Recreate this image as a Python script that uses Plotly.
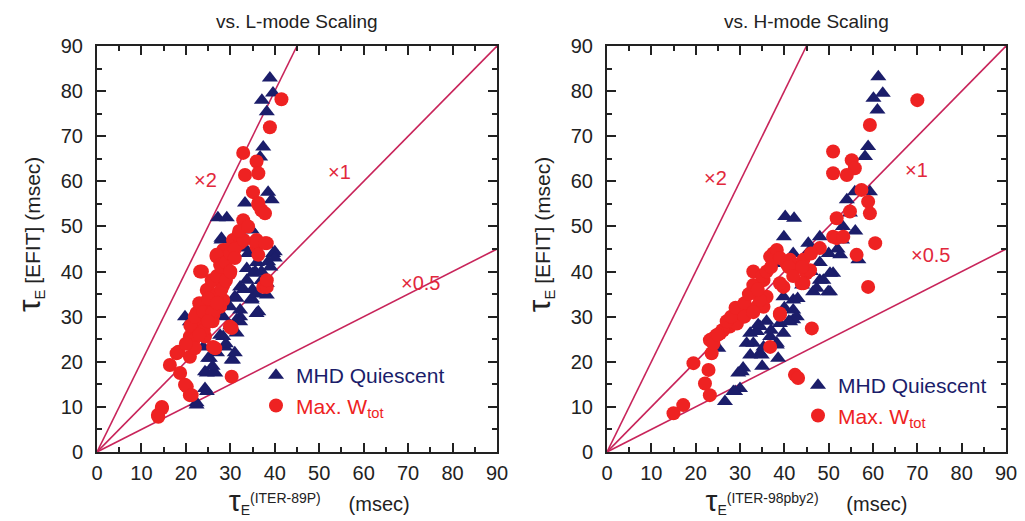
import plotly.graph_objects as go

# ---------------- data ----------------
panel_titles = ["vs. L-mode Scaling", "vs. H-mode Scaling"]
x_scalings = ["ITER-89P", "ITER-98pby2"]
ratio_values = [2, 1, 0.5]
ratio_labels = ["×2", "×1", "×0.5"]
series_names = ["MHD Quiescent", "Max. W<sub>tot</sub>"]
tick_vals = [0, 10, 20, 30, 40, 50, 60, 70, 80, 90]

# Left panel (L-mode scaling): MHD quiescent (triangles)
L_tri_x = [38.9, 37.1, 39.6, 38.2, 37.4, 36.7, 38.5, 39.3, 33.3, 27.2, 29.2, 34.8, 28.0,
           39.6, 35.1, 38.2, 36.3, 34.8, 32.2, 31.4, 28.4, 30.6, 25.4, 24.7, 26.6, 24.7,
           22.4, 20.9, 23.9, 27.7, 31.4, 34.4, 28.0, 33.3, 40.0, 38.5, 33.7, 35.6, 37.0,
           33.7, 38.2, 32.2, 31.0, 34.8, 29.9, 32.2, 35.9, 28.4, 19.8, 31.4, 32.2, 27.7,
           28.8, 25.0, 30.3, 24.3, 26.2, 24.3, 22.4,
           34.0, 36.0, 37.0, 33.0, 35.0, 30.0, 29.0, 27.0, 26.0, 31.0, 36.0, 39.0, 38.0, 40.0]
L_tri_y = [82.9, 78.0, 79.6, 75.4, 67.6, 65.4, 57.6, 55.9, 55.2, 51.9, 51.9, 49.2, 47.4,
           44.0, 39.6, 34.8, 31.1, 33.7, 30.0, 26.4, 25.6, 20.4, 20.8, 17.5, 17.5, 13.4,
           10.9, 28.9, 23.3, 33.0, 34.1, 49.6, 47.0, 45.2, 44.4, 42.2, 40.7, 40.0, 40.0,
           38.1, 37.4, 36.6, 34.4, 34.0, 32.2, 31.5, 30.7, 30.0, 30.0, 29.3, 28.9, 25.9,
           23.3, 20.8, 20.4, 17.8, 17.8, 14.1, 10.4,
           44.0, 42.0, 38.0, 36.0, 36.0, 28.0, 24.0, 22.0, 19.0, 22.0, 35.0, 41.0, 46.0, 43.0]

# Left panel: Max. W_tot (circles)
L_cir_x = [41.5, 38.9, 32.9, 35.9, 36.3, 33.3, 35.1, 36.3, 37.0, 32.9, 35.9, 38.2, 30.6,
           23.2, 26.9, 28.4, 32.2, 35.9, 37.4, 22.4, 21.6, 20.9, 17.9, 16.4, 18.7, 20.2,
           20.9, 14.6, 13.7, 30.3, 26.1, 30.3, 25.4, 28.4,
           36.3, 37.8, 31.8, 35.6, 37.8, 29.2, 26.9, 36.3, 27.7, 23.6, 29.9, 25.8, 28.4,
           24.7, 38.2, 26.9, 25.4, 23.2, 27.7, 22.4, 24.7, 26.2, 29.9, 38.2,
           22.4, 24.3, 21.7, 18.3, 20.9, 26.6, 19.8, 21.3, 14.6, 13.8,
           21.0, 22.0, 23.0, 24.0, 25.0, 26.0, 27.0, 28.0, 29.0, 30.0, 31.0, 24.0, 23.0,
           26.0, 27.0, 28.0, 29.0, 30.0, 31.0, 33.0, 22.0, 20.0, 25.0, 32.0, 34.0, 26.0,
           25.0, 27.0]
L_cir_y = [78.2, 72.0, 66.3, 64.4, 61.8, 61.4, 57.6, 55.2, 53.6, 51.4, 47.0, 46.3, 47.0,
           40.0, 43.3, 44.8, 46.3, 45.5, 36.6, 30.8, 27.8, 25.6, 21.9, 19.3, 17.5, 14.5,
           12.6, 10.0, 8.2, 27.5, 23.3, 16.7, 35.2, 33.7,
           54.8, 52.9, 48.1, 46.6, 46.3, 44.8, 43.7, 43.7, 41.5, 40.0, 39.6, 38.1, 37.0,
           35.9, 36.6, 34.4, 33.0, 31.5, 32.2, 29.6, 28.9, 30.4, 27.8, 38.1,
           27.8, 25.6, 24.8, 22.2, 21.1, 23.0, 14.9, 12.6, 9.7, 7.8,
           28.0, 30.0, 33.0, 31.0, 36.0, 38.0, 39.0, 41.0, 42.0, 44.0, 45.0, 27.0, 26.0,
           29.0, 35.0, 36.0, 38.0, 40.0, 43.0, 47.0, 23.0, 24.0, 34.0, 49.0, 50.0, 31.0,
           29.0, 33.0]

# Right panel (H-mode scaling): MHD quiescent (triangles)
H_tri_x = [61.2, 60.1, 62.2, 61.0, 58.9, 58.2, 59.3, 55.9, 54.1, 40.2, 42.2, 54.8, 53.2,
           39.9, 45.4, 42.0, 37.5, 52.6, 56.7, 51.0, 48.0, 46.5, 50.3, 42.0, 39.8, 42.0,
           42.0, 39.0, 34.5, 32.3, 39.8, 31.5, 34.5, 32.3, 38.3, 38.6, 30.7, 29.6, 30.0,
           28.9, 26.6, 24.7, 48.0, 28.5, 30.4, 34.9, 33.0, 35.3, 33.8, 36.8, 34.1, 38.3,
           41.3, 42.8, 47.3, 49.9, 48.8, 50.3, 45.8, 25.1,
           44.0, 46.0, 40.0, 41.0, 43.0, 36.0, 37.0, 35.0, 48.0, 52.0, 56.0, 50.0, 53.0]
H_tri_y = [83.2, 78.4, 79.5, 75.8, 67.7, 65.5, 57.7, 57.7, 55.9, 52.2, 51.8, 53.0, 50.0,
           47.7, 46.3, 44.0, 41.8, 43.7, 42.6, 39.6, 38.1, 35.5, 35.5, 33.7, 34.4, 31.5,
           29.3, 28.5, 27.8, 26.3, 26.3, 24.1, 21.9, 21.5, 24.1, 20.8, 18.6, 17.5, 14.1,
           13.4, 11.2, 23.3, 47.7, 13.4, 17.8, 21.5, 24.1, 23.3, 26.7, 25.6, 28.2, 23.7,
           28.9, 30.0, 36.3, 35.5, 38.1, 39.6, 44.8, 23.0,
           37.0, 40.0, 32.0, 29.0, 34.0, 29.0, 27.0, 19.0, 42.0, 45.0, 49.0, 44.0, 47.0]

# Right panel: Max. W_tot (circles)
H_cir_x = [70.0, 59.3, 51.0, 55.2, 55.9, 51.0, 54.1, 57.4, 58.9, 59.3, 51.8, 54.8, 51.0,
           37.5, 33.0, 35.3, 40.5, 43.5, 45.0, 39.8, 44.3, 36.0, 33.8, 39.0, 30.0, 29.3,
           27.7, 25.5, 23.2, 23.6, 19.5, 22.9, 22.1, 23.2, 17.2, 15.0, 46.2, 36.8, 42.4,
           43.1, 58.9, 56.3, 51.8, 48.0, 53.3, 60.5, 24.0, 27.7, 29.3, 30.4, 26.2, 24.7,
           35.3, 34.5, 36.8, 38.3, 41.3, 44.3, 45.8, 43.9, 39.0, 39.0,
           26.0, 27.0, 28.0, 29.0, 31.0, 32.0, 33.0, 34.0, 35.0, 36.0, 37.0, 39.0, 41.0,
           42.0, 44.0, 46.0, 24.0, 25.0, 31.0, 33.0]
H_cir_y = [78.0, 72.5, 66.6, 64.7, 62.9, 61.8, 61.4, 58.1, 55.5, 52.9, 51.8, 53.3, 47.7,
           44.0, 40.0, 38.1, 41.8, 41.1, 39.6, 36.6, 37.4, 34.4, 32.2, 30.7, 31.5, 29.3,
           27.8, 26.3, 24.8, 21.9, 19.7, 18.2, 15.2, 12.6, 10.4, 8.6, 27.4, 23.3, 17.1,
           16.4, 36.6, 43.7, 47.4, 45.2, 47.7, 46.3, 25.2, 28.9, 28.5, 30.7, 27.0, 25.9,
           32.2, 33.7, 43.3, 44.8, 42.6, 42.6, 40.3, 37.4, 37.4, 30.4,
           27.0, 29.0, 30.0, 32.0, 33.0, 35.0, 37.0, 36.0, 39.0, 40.0, 41.0, 43.0, 41.0,
           39.0, 41.0, 44.0, 24.0, 26.0, 30.0, 31.0]

# label positions (data units) for the ratio annotations
L_label_x = [24.3, 54.5, 72.7]
L_label_y = [60.3, 62.0, 37.5]
H_label_x = [24.4, 69.9, 72.9]
H_label_y = [60.7, 62.5, 43.7]

# ---------------- styling ----------------
NAVY = "#1b1d6a"
RED = "#ee2222"
LINE = "#c8245a"
LABEL_RED = "#e2283c"
INK = "#222222"
FONT = "Liberation Sans, Arial, Helvetica, sans-serif"
NB = "&nbsp;"

fig = go.Figure()

panels = [
    ("x", "y", L_tri_x, L_tri_y, L_cir_x, L_cir_y, L_label_x, L_label_y, "legend"),
    ("x2", "y2", H_tri_x, H_tri_y, H_cir_x, H_cir_y, H_label_x, H_label_y, "legend2"),
]

for xa, ya, tx, ty, cx, cy, lx, ly, leg in panels:
    for m in ratio_values:
        xe = min(90, 90 / m)
        fig.add_trace(go.Scatter(x=[0, xe], y=[0, m * xe], mode="lines",
                                 line=dict(color=LINE, width=1.6),
                                 xaxis=xa, yaxis=ya, showlegend=False, hoverinfo="skip"))
    fig.add_trace(go.Scatter(x=tx, y=ty, mode="markers", xaxis=xa, yaxis=ya,
                             name=f"<span style='color:{NAVY}'>{series_names[0]}</span>",
                             marker=dict(symbol="triangle-up", size=14, color=NAVY,
                                         line=dict(width=0)),
                             legend=leg))
    fig.add_trace(go.Scatter(x=cx, y=cy, mode="markers", xaxis=xa, yaxis=ya,
                             name=f"<span style='color:{RED}'>{series_names[1]}</span>",
                             marker=dict(symbol="circle", size=14, color=RED,
                                         line=dict(width=0)),
                             legend=leg))
    for lab, xx, yy in zip(ratio_labels, lx, ly):
        fig.add_annotation(x=xx, y=yy, xref=xa, yref=ya, text=lab, showarrow=False,
                           xanchor="center", yanchor="middle",
                           font=dict(family=FONT, size=20, color=LABEL_RED))


def axis_common():
    return dict(range=[0, 90], tickvals=tick_vals, ticks="inside", ticklen=9,
                tickwidth=1.5, tickcolor=INK, showline=True, linewidth=2,
                linecolor=INK, mirror="ticks", showgrid=False, zeroline=False,
                automargin=False,
                minor=dict(dtick=5, ticks="inside", ticklen=5, tickwidth=1.5,
                           tickcolor=INK, showgrid=False),
                tickfont=dict(family=FONT, size=20, color=INK), fixedrange=True)


def x_title(scaling, lead):
    return (NB * lead + "<span style='font-size:30px'>τ</span><sub>E</sub>"
            f"<sup><span style='font-size:14px'>({scaling})</span></sup>"
            + NB * 5 + "(msec)")


y_title = (NB * 5 + "<span style='font-size:32px'>τ</span><sub>E</sub> [EFIT] (msec)")

xd1 = [97 / 1025, 497 / 1025]
xd2 = [607 / 1025, 1006 / 1025]
yd = [1 - 452 / 521, 1 - 46 / 521]

fig.update_layout(
    width=1025, height=521,
    margin=dict(l=0, r=0, t=0, b=0, autoexpand=False),
    paper_bgcolor="white", plot_bgcolor="white",
    font=dict(family=FONT, color=INK),
    xaxis=dict(domain=xd1, anchor="y", ticklabelstandoff=2,
               title=dict(text=x_title(x_scalings[0], 8), standoff=2,
                          font=dict(size=20, color=INK)), **axis_common()),
    yaxis=dict(domain=yd, anchor="x", ticklabelstandoff=8,
               title=dict(text=y_title, standoff=14, font=dict(size=21, color=INK)),
               **axis_common()),
    xaxis2=dict(domain=xd2, anchor="y2", ticklabelstandoff=2,
                title=dict(text=x_title(x_scalings[1], 0), standoff=2,
                           font=dict(size=20, color=INK)), **axis_common()),
    yaxis2=dict(domain=yd, anchor="x2", ticklabelstandoff=8,
                title=dict(text=y_title, standoff=14, font=dict(size=21, color=INK)),
                **axis_common()),
    legend=dict(x=256 / 1025, y=1 - 355 / 521, xanchor="left", yanchor="top",
                bgcolor="rgba(0,0,0,0)", font=dict(family=FONT, size=21),
                itemwidth=30, tracegroupgap=0),
    legend2=dict(x=798 / 1025, y=1 - 365 / 521, xanchor="left", yanchor="top",
                 bgcolor="rgba(0,0,0,0)", font=dict(family=FONT, size=21),
                 itemwidth=30, tracegroupgap=0),
    showlegend=True,
)

for title, xd in zip(panel_titles, [xd1, xd2]):
    fig.add_annotation(x=(xd[0] + xd[1]) / 2, y=1 - 22 / 521, xref="paper", yref="paper",
                       xanchor="center", yanchor="middle",
                       text=title, showarrow=False,
                       font=dict(family=FONT, size=19, color=INK))

fig.write_html("out.html", config={"displayModeBar": False},
               post_script="document.body.style.margin='0px';"
                           "document.body.style.overflow='hidden';")
